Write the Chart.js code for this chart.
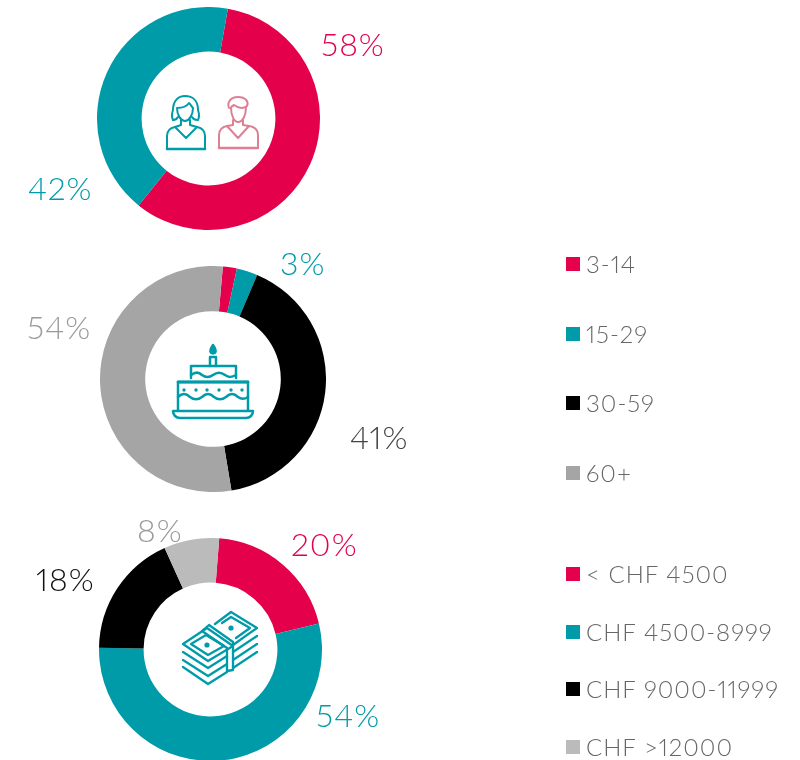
<!DOCTYPE html>
<html>
<head>
<meta charset="utf-8">
<title>Donuts</title>
<script src="https://cdn.jsdelivr.net/npm/chart.js@4/dist/chart.umd.min.js"></script>
<style>
  html, body { margin: 0; padding: 0; background: #fff; }
  #page { position: relative; width: 800px; height: 760px; overflow: hidden; font-family: Lato, sans-serif; font-weight: 300; font-variant-numeric: proportional-nums; }
  canvas { position: absolute; }
  svg { position: absolute; left: 0; top: 0; }
  .pct { position: absolute; font-size: 32px; line-height: 36px; letter-spacing: 1px; white-space: nowrap; }
  .leg { position: absolute; font-size: 24px; line-height: 28px; color: #666; white-space: nowrap; letter-spacing: 1px; }
  .leg i { position: absolute; left: -20px; top: 7px; width: 14px; height: 14px; }
</style>
</head>
<body>
<div id="page">
  <canvas id="chartGender"></canvas>
  <canvas id="chartAge"></canvas>
  <canvas id="chartIncome"></canvas>

  <svg width="800" height="760" fill="none" stroke-linejoin="round" stroke-linecap="round">
    <!-- nguoi -->
    <g stroke="#009ba9" stroke-width="2">
      <path d="M173 120 C171 116 172 113 173 110 C173 101 178 96 185 96 C193 96 198 101 198 110 C199 113 200 116 198 120 C195 120 193 119 192 117"/>
      <path d="M178 117 C177 119 175 120 173 120"/>
      <path d="M177 108 C182 108 187 106 189 103 C191 105 192 107 193 108 C193 115 189 121 185 121 C181 121 177 115 177 108 Z"/>
      <path d="M181 120 V125 L175 127 L186 138 L197 127 L190 125 V120"/>
      <path d="M167 149 V136 C167 131 170 128 175 127 M205 149 V136 C205 131 202 128 197 127"/>
      <path d="M167 149 H205" stroke-width="2.6"/>
    </g>
    <g stroke="#dd8095" stroke-width="2">
      <path d="M229 108 C227 103 230 97 238 97 C246 97 249 102 247 106 C243 109 238 108 234 105 C232 106 231 107 231 108"/>
      <path d="M231 108 C231 115 234 122 238 122 C243 122 246 115 246 107"/>
      <path d="M233 120 V125 L227 126 L238 138 L249 126 L243 125 V120"/>
      <path d="M219 148 V135 C219 130 222 127 227 126 M258 148 V135 C258 130 255 127 249 126"/>
      <path d="M219 148 H258" stroke-width="2.4"/>
    </g>
    <!-- banh -->
    <g stroke="#009ba9" stroke-width="2.5">
      <path d="M213 345 C211 348 210 350 210.5 352 C211 354 215 354 215.5 352 C216 350 215 348 213 345 Z" fill="#009ba9"/>
      <path d="M210 366 V357 H216 V366"/>
      <path d="M191 378 V366 H236 V378"/>
      <path d="M191 375 C195 372 199 372 202 375 C206 378 209 378 213 375 C217 372 221 372 225 375 C229 378 232 377 236 375"/>
      <path d="M178 410 V382 H248 V410"/>
      <path d="M178 382 H248" stroke-width="2.8"/>
      <path d="M178 397 C182 393 186 393 190 397 C194 400 198 400 202 397 C206 393 210 393 214 397 C218 400 222 400 226 397 C230 393 234 393 238 397 C242 400 245 399 248 397"/>
      <path d="M173 411 H253 C253 415 250 418 246 418 H180 C176 418 173 415 173 411 Z"/>
    </g>
    <g fill="#009ba9">
      <circle cx="184" cy="390" r="1.7"/><circle cx="196" cy="390" r="1.7"/><circle cx="207" cy="390" r="1.7"/>
      <circle cx="219" cy="390" r="1.7"/><circle cx="231" cy="390" r="1.7"/><circle cx="242" cy="390" r="1.7"/>
    </g>
    <!-- tien -->
    <g stroke="#009ba9" stroke-width="2.3">
      <path d="M215 624 L231 612 L257 628 L233 645"/>
      <path d="M222 623 L231 617 L250 628 L236 638"/>
      <path d="M257 636 L233 652 M257 644 L233 660 M257 652 L233 668"/>
      <path d="M183 644 L207 628 L233 646 L208 661 Z"/>
      <path d="M191 644 L206 635 L224 646 L208 655 Z"/>
      <path d="M183 652 L208 668 L227 656 M183 660 L208 676 L227 664 M183 667 L208 684 L227 672"/>
      <path d="M202 631 L209 625 L233 642 V670 L227 671 V648 Z"/>
    </g>
    <g fill="#009ba9"><circle cx="207" cy="645" r="2.6"/><circle cx="231" cy="628" r="2.6"/></g>
  </svg>
</div>

<script>
// donut 1
const genderLabels = ["Nữ", "Nam"];
const genderValues = [58, 42];
const genderColors = ["#e4004b", "#009ba9"];

// donut 2
const ageLabels = ["3-14", "15-29", "30-59", "60+"];
const ageValues = [2, 3, 41, 54];
const ageColors = ["#e4004b", "#009ba9", "#000000", "#a5a5a5"];

// donut 3
const incomeLabels = ["< CHF 4500", "CHF 4500-8999", "CHF 9000-11999", "CHF >12000"];
const incomeValues = [20, 54, 18, 8];
const incomeColors = ["#e4004b", "#009ba9", "#000000", "#bbbbbb"];

function donut(id, labels, values, colors, rotation, cx, cy, r) {
  const canvas = document.getElementById(id);
  canvas.width = r * 2;
  canvas.height = r * 2;
  canvas.style.left = (cx - r) + "px";
  canvas.style.top = (cy - r) + "px";
  new Chart(canvas.getContext("2d"), {
    type: "doughnut",
    data: {
      labels: labels,
      datasets: [{ data: values, backgroundColor: colors, borderWidth: 0 }],
    },
    options: {
      responsive: false,
      animation: false,
      rotation: rotation,
      cutout: "60%",
      plugins: { legend: { display: false }, tooltip: { enabled: false } },
    },
  });
}

donut("chartGender", genderLabels, genderValues, genderColors, 10, 208.5, 118.5, 111.5);
donut("chartAge", ageLabels, ageValues, ageColors, 5, 213, 379, 113);
donut("chartIncome", incomeLabels, incomeValues, incomeColors, 4.5, 210.5, 649.5, 111.5);

// nhan phan tram
const page = document.getElementById("page");
function pct(text, color, x, y) {
  const el = document.createElement("div");
  el.className = "pct";
  el.textContent = text;
  el.style.color = color;
  el.style.left = x + "px";
  el.style.top = y + "px";
  page.appendChild(el);
}
pct(genderValues[0] + "%", genderColors[0], 321, 26);
pct(genderValues[1] + "%", genderColors[1], 28, 170);
pct(ageValues[1] + "%", ageColors[1], 280, 245);
pct(ageValues[2] + "%", "#444444", 350, 419);
pct(ageValues[3] + "%", "#9a9a9a", 27, 309);
pct(incomeValues[0] + "%", incomeColors[0], 291, 526);
pct(incomeValues[1] + "%", incomeColors[1], 316, 697);
pct(incomeValues[2] + "%", "#111111", 36, 561);
pct(incomeValues[3] + "%", "#9a9a9a", 137, 512);

// chu thich
function legendItem(text, color, x, y) {
  const el = document.createElement("div");
  el.className = "leg";
  el.style.left = x + "px";
  el.style.top = y + "px";
  const box = document.createElement("i");
  box.style.background = color;
  el.appendChild(box);
  el.appendChild(document.createTextNode(text));
  page.appendChild(el);
}
const ageLegendY = [250, 320, 389, 459];
ageLabels.forEach((l, i) => legendItem(l, ageColors[i], 586, ageLegendY[i]));
const incomeLegendY = [560, 618, 675, 733];
incomeLabels.forEach((l, i) => legendItem(l, incomeColors[i], 586, incomeLegendY[i]));
</script>
</body>
</html>
